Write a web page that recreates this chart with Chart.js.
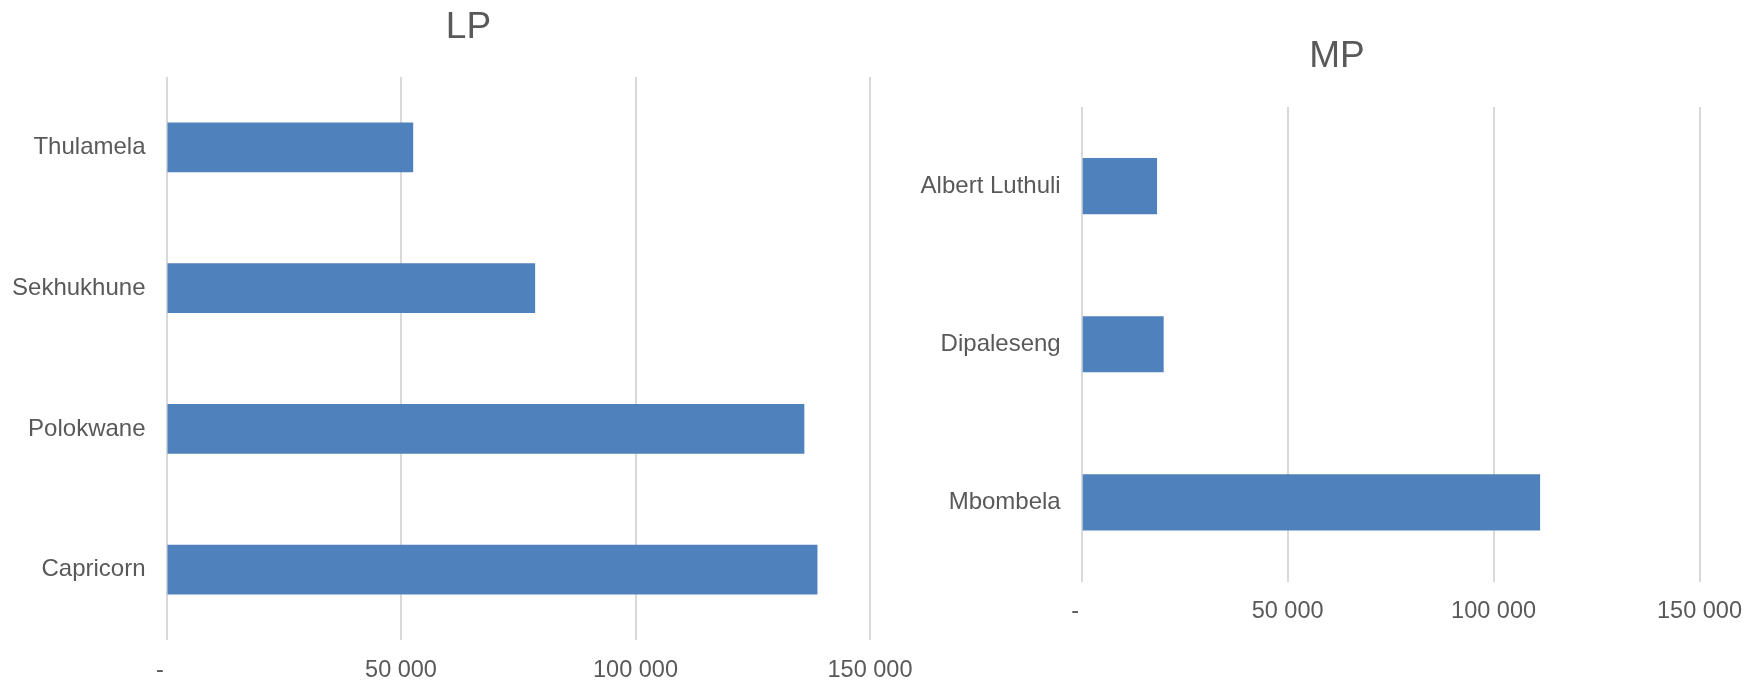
<!DOCTYPE html>
<html>
<head>
<meta charset="utf-8">
<script src="https://cdn.jsdelivr.net/npm/chart.js@4/dist/chart.umd.min.js"></script>
<style>
  body { margin: 0; background: #fff; width: 1758px; height: 683px; overflow: hidden; position: relative; }
  canvas { position: absolute; top: 0; }
</style>
</head>
<body>
<canvas id="lp_chart" width="937" height="683" style="left:0px"></canvas>
<canvas id="mp_chart" width="842" height="683" style="left:916px"></canvas>
<script>
const lp_labels = ["Thulamela", "Sekhukhune", "Polokwane", "Capricorn"];
const lp_values = [52600, 78600, 136000, 138800];

const mp_labels = ["Albert Luthuli", "Dipaleseng", "Mbombela"];
const mp_values = [18300, 19900, 111300];

const x_min = 0;
const x_max = 150000;
const x_step = 50000;

const text_color = "#595959";
const bar_color = "#4f81bd";
const grid_color = "#d9d9d9";

// 50000 -> "50 000", 0 -> "-" (accounting style, dash sits left)
function fmt_tick(v) {
  if (v == 0) return "-  ";
  return String(v).replace(/\B(?=(\d{3})+(?!\d))/g, " ");
}

function make_chart(id, title, labels, values, box) {
  const ctx = document.getElementById(id);
  return new Chart(ctx, {
    type: "bar",
    data: {
      labels: labels,
      datasets: [
        {
          data: values,
          backgroundColor: bar_color,
          borderWidth: 0,
          barPercentage: 0.355,
          categoryPercentage: 1,
        },
      ],
    },
    options: {
      indexAxis: "y",
      responsive: false,
      animation: false,
      layout: { padding: 0 },
      plugins: {
        legend: { display: false },
        tooltip: { enabled: false },
        title: {
          display: true,
          text: title,
          color: text_color,
          font: { family: "'Liberation Sans', Arial, sans-serif", size: 37, weight: "normal" },
          padding: { top: box.titleTop, bottom: box.titleBottom },
        },
      },
      scales: {
        x: {
          min: x_min,
          max: x_max,
          border: { display: false },
          grid: { color: grid_color, lineWidth: 2, drawTicks: false },
          ticks: {
            stepSize: x_step,
            padding: 16,
            color: text_color,
            font: { family: "'Liberation Sans', Arial, sans-serif", size: 23.5 },
            maxRotation: 0,
            callback: (v) => fmt_tick(v),
          },
          afterFit: (s) => { s.height = box.bottomH; },
        },
        y: {
          border: { display: false },
          grid: { display: false, drawTicks: false },
          ticks: {
            padding: 21,
            color: text_color,
            font: { family: "'Liberation Sans', Arial, sans-serif", size: 24 },
          },
          afterFit: (s) => { s.width = box.leftW; },
        },
        // empty right-hand box so the plot ends before the title's centre line
        yRight: {
          type: "linear",
          position: "right",
          border: { display: false },
          grid: { display: false, drawTicks: false },
          ticks: { display: false },
          afterFit: (s) => { s.width = box.rightW; },
        },
      },
    },
  });
}

const lp_chart = make_chart("lp_chart", "LP", lp_labels, lp_values,
  { leftW: 166.5, rightW: 67, bottomH: 43, titleTop: 6, titleBottom: 26.6 });

const mp_chart = make_chart("mp_chart", "MP", mp_labels, mp_values,
  { leftW: 165.7, rightW: 58, bottomH: 101.5, titleTop: 35, titleBottom: 27.6 });
</script>
</body>
</html>
